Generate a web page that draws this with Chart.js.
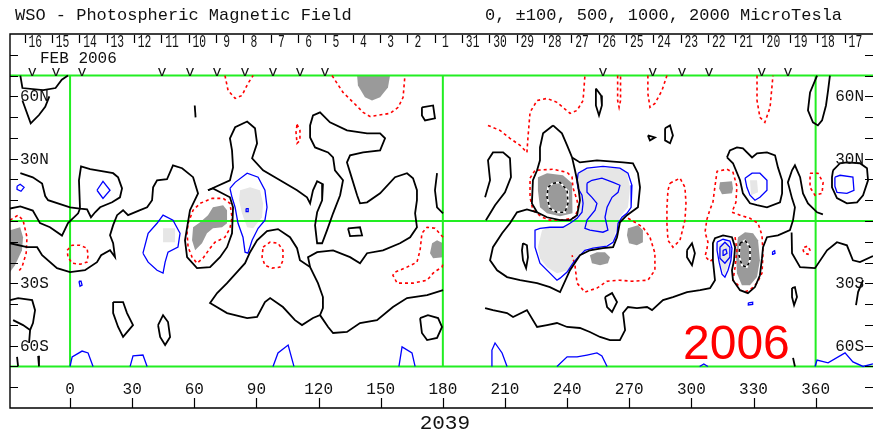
<!DOCTYPE html>
<html>
<head>
<meta charset="utf-8">
<script src="https://cdn.jsdelivr.net/npm/chart.js@4.4.1/dist/chart.umd.min.js"></script>
<style>
  html, body { margin: 0; padding: 0; background: #fff; }
  #wrap { width: 873px; height: 432px; position: relative; }
</style>
</head>
<body>
<div id="wrap"><canvas id="synoptic"></canvas></div>
<script>
// Carrington rotation 2039 – photospheric field contour map (lon/lat in degrees)
const lonMin = -29, lonMax = 387.7;
const latMin = -90, latMax = 90;
const boxLat = 70;

const lonTicks = [0, 30, 60, 90, 120, 150, 180, 210, 240, 270, 300, 330, 360];
const latTicks = [-80, -70, -60, -50, -40, -30, -20, -10, 0, 10, 20, 30, 40, 50, 60, 70, 80];
const latLabels = { '60': '60N', '30': '30N', '-30': '30S', '-60': '60S' };
const gridLats = [boxLat, 0, -boxLat];
const gridLons = [0, 180, 360];

const dayLabels = ['16', '15', '14', '13', '12', '11', '10', '9', '8', '7', '6', '5', '4', '3', '2', '1',
  '31', '30', '29', '28', '27', '26', '25', '24', '23', '22', '21', '20', '19', '18', '17'];
const dayFirstLon = -16.8;
const dayStepLon = 13.2;
const obsMarks = [-18.3, -6.8, 5.8, 44.4, 57.9, 71, 84.5, 98, 111, 123.1, 257.3, 281.4, 295.5, 308.5, 334, 346.6];

// neutral line (0 contour)
const zeroContours = [
  [[-24,70],[-23,64],[-13,63],[-7,64],[-4,68],[-1,70]],
  [[-23,58],[-19,47],[-15,51],[-12,55],[-10,60]],
  [[-24,23],[-18,21],[-13.5,18],[-12,12],[-10.6,10],[0,6.6],[4.8,6]],
  [[4.8,6],[4.3,19.6],[5.3,26.3],[9.7,25],[20.8,23],[23.2,21],[25.1,15.7],[24.1,11.4],[20.3,9],[14.5,6.6],[12.1,4.2],[10.1,1.8],[8.2,5.6],[4.8,6]],
  [[-29,6],[-24,7],[-18,5],[-14.5,-1],[-9.7,-3],[-3.9,-7],[-1,-1],[3.9,3.7],[4.8,6]],
  [[-29,-10.7],[-20.8,-12.6],[-15.9,-12.6],[-13.5,-16.5],[-6.3,-22.7],[0,-24.6],[7.2,-23.7],[13,-19.8],[15,-16.5],[19.3,-14.1],[21.7,-17.4],[20.8,-10.7],[19.3,-6.9],[20.8,-2],[22.7,2.8],[25.6,5.2],[28,2.8],[33.8,5.2],[37.2,6.6],[39.6,10],[40.1,16.2],[42,19.6],[46.8,20.1],[49.7,26.8],[54.1,25.4],[59.4,21.1],[61.8,13.3],[57.9,5.2],[55.5,-9.3],[56.5,-17.4],[61.3,-22.7],[67.6,-22.2],[72.4,-17.4],[75.8,-12.6],[78.2,-5.9],[78.7,6.6],[77.2,11.4],[69,15.7],[66.6,14.8]],
  [[66.6,14.8],[77.2,19.6],[78.7,25.8],[78.2,34],[77.2,39.8],[79.7,45.1],[85.5,47.9],[89.3,44.6],[90.3,37.4],[87.9,30.2],[93.2,24.4],[101.4,19.6],[109.6,14.8],[114.4,11.4],[115.9,8.5],[117.3,14.8],[119.3,19.1],[122.1,17.7],[121.7,10],[119.3,4.2],[118.3,-2],[119.3,-10.7],[121.7,-10.7],[124.1,-4.4],[127,3.7],[130.4,12.4],[131.8,19.6],[127.9,24.4],[127,30.6],[124.6,33],[118.3,35.4],[115.9,40.2],[115.9,46],[117.3,50.8],[120.7,52.3],[125.5,47.5],[133.7,43.6],[143.4,42.2],[149.7,42.2],[152.1,39.8],[149.7,34],[141.5,33],[135.2,31.6],[133.7,28.2],[135.2,23.4],[138.6,12.4],[140,8.5],[143.4,9],[149.7,13.3],[156.9,21.1],[162.7,23],[165.6,20.6],[167.5,14.8],[167.5,10],[166.6,3.7],[167.5,-3],[164.2,-7.8],[159.3,-10.7],[151.1,-14.1],[143.4,-15.5],[140,-20.3],[135.2,-17.4],[127,-14.1],[119.3,-15],[114.9,-17.4],[115.9,-22.2]],
  [[86.9,-15],[90.3,-9.3],[95.1,-4.9],[100.4,-3.9],[106.2,-7.8],[109.6,-13.1],[111,-18.9],[115.9,-22.2],[119.7,-29.9],[122.1,-36.6],[122.1,-41.9],[120.7,-45.3],[117.3,-46.7],[112,-50.1],[108.6,-47.7],[102.8,-41.4],[96.6,-37.1],[94.1,-39],[90.3,-46.2],[85.5,-46.7],[75.8,-44.3],[67.6,-39.5],[71,-34.7],[75.8,-29.9],[80.6,-24.6],[84.5,-20.3],[86.9,-15]],
  [[120.7,-45.3],[124.6,-51],[127,-53.9],[133.7,-53.4],[140,-49.1],[148.2,-47.7],[155.9,-41.4],[162.7,-37.1],[172.4,-35.7],[180.1,-33.3]],
  [[134.2,-3.5],[140,-3],[141,-6.9],[135.2,-7.3],[134.2,-3.5]],
  [[169,-46.7],[172.8,-45.3],[177.7,-46.7],[179.6,-51],[177.2,-56.3],[172.4,-57.3],[169.9,-53.9],[169,-46.7]],
  [[169.9,54.7],[175.3,55.6],[176.2,49.4],[171.4,48.4],[169.9,50.8],[169.9,54.7]],
  [[177.2,23],[176.2,14.8],[177.2,6.6],[180.1,3.7]],
  [[20.8,-39],[25.6,-39],[27.5,-44.3],[30.4,-50.1],[25.6,-55.8],[23.2,-51],[20.8,-44.3],[20.8,-39]],
  [[42.5,-50.1],[44.9,-45.3],[47.3,-48.6],[48.3,-55.8],[45.9,-59.7],[43.5,-55.8],[42.5,-50.1]],
  [[-29,-38.1],[-25.1,-37.1],[-18.3,-38.1],[-16.9,-42.9],[-17.9,-49.1],[-19.3,-52.5],[-19.8,-58.7]],
  [[-27.5,-47.7],[-22.7,-50.1],[-19.3,-52.5]],
  [[-25.6,-65.4],[-25.1,-70]],
  [[-15.4,-64.9],[-15,-70]],
  [[60.2,55.6],[60.6,49.9]],
  [[200.4,11.4],[202.8,19.6],[201.8,29.2],[204.2,33],[209.1,33],[212.4,30.2],[212.9,21.1],[210,13.8],[205.2,7.6],[200.8,0.4]],
  [[233.2,46],[228.4,42.2],[226.9,35.4],[226.9,29.2],[225.5,24.4],[223.5,19.6],[223,8.5],[225.5,4.2],[230.3,1.8],[236.6,0.4],[241.4,0.4],[244.8,2.8],[246.2,10],[245.3,17.2],[243.8,24.4],[242.4,30.6],[240,36.4],[237.5,42.2],[233.2,46]],
  [[242.4,30.6],[246.2,28.2],[254.4,29.2],[267,28.2],[271.8,27.8],[274.2,23],[275.2,16.2],[274.2,6.6],[268.9,2.8],[265.5,-0.6],[264.1,-7.8],[262.2,-12.6],[257.3,-13.1],[251,-14.1],[246.2,-16.5],[241.4,-23.7],[236.6,-34.2],[231.7,-31.8],[225.5,-29.9],[217.3,-28.5],[211,-27],[206.2,-23.7],[202.8,-18.9],[204.2,-12.6],[208.6,-5.9],[212.4,-1.1],[215.8,4.2],[220.6,5.6],[225.5,4.2]],
  [[218.7,-10.7],[220.6,-11.7],[221.1,-17.4],[220.2,-22.7],[218.7,-18.9],[218.2,-14.1],[218.7,-10.7]],
  [[200.4,-41.9],[204.2,-42.9],[211,-44.3],[213.9,-46.2],[220.6,-42.9],[225.5,-51],[230.3,-50.1],[235.1,-49.1],[240,-51],[246.2,-51.5],[251,-53.4],[255.9,-55.8],[260.7,-57.3],[265.5,-57.3],[268,-52.5],[267,-44.3],[269.4,-41.4],[273.7,-41.9],[278.6,-41.4],[281,-42.9],[286.3,-38.1],[291.1,-36.6],[297.9,-34.2],[304.2,-33.3],[309,-32.3],[311.4,-28.5],[310.4,-18.9],[310.4,-10.7],[311.4,-8.3],[315.3,-6.9],[319.6,-7.8],[321.1,-12.6],[320.6,-18.9],[319.6,-23.7],[320.1,-28.5],[323.5,-33.3],[327.3,-34.7],[330.7,-31.8],[333.1,-26.1],[334.1,-17.9],[334.6,-12.6],[336.5,-7.8],[341.8,-6.9],[347.6,-4.4],[349.1,0.4],[350,6.6],[348.6,10.9],[346.6,18.6],[348.6,24.4],[350,26.8],[352.5,21.1],[353.9,13.3],[356.3,8.5],[360.7,4.2],[363.5,3.2]],
  [[348.4,-5.5],[348.6,-15.5],[352.5,-22.2],[359.7,-22.7],[365.5,-14.1],[370.3,-10.2],[375.1,-11.7],[378,-18.9],[381.4,-19.8],[387.7,-16.9]],
  [[317.2,30.6],[318.6,34],[322,35.4],[324.9,35],[329.3,30.6],[331.7,32.6],[336.5,33],[340.4,31.6],[341.8,25.8],[343.8,19.6],[343.8,13.3],[342.8,9],[336.5,6.6],[331.7,7.6],[328.3,8.5],[324.9,13.3],[323.5,19.6],[320.1,27.8],[317.2,30.6]],
  [[360.7,70],[357.3,61.9],[356.3,53.2],[358.7,47.5],[361.1,46],[363.1,48.4],[365,55.6],[366,62.8],[366.9,70]],
  [[368.4,24.4],[371.8,27.8],[375.1,28.2],[381.4,27.8],[384.8,25.4],[385.3,19.6],[382.9,12.4],[380,9],[375.1,8.5],[370.3,11],[367.9,16.2],[367.9,21.1],[368.4,24.4]],
  [[253.9,63.8],[256.4,60.4],[256.8,55.6],[255.4,50.8],[253.9,55.6],[253.9,63.8]],
  [[287.3,44.6],[289.7,46],[291.1,41.2],[289.7,37.4],[287.3,38.8],[287.3,44.6]],
  [[279,41.2],[282.4,40.2],[280,38.8],[279,41.2]],
  [[258.3,-36.6],[261.7,-34.7],[264.1,-39],[261.7,-43.8],[259.3,-41.4],[258.3,-36.6]],
  [[297.9,-14.1],[300.3,-10.7],[301.7,-15.5],[300.3,-21.3],[297.9,-17.4],[297.9,-14.1]],
  [[348.6,-32.3],[350,-31.8],[351,-36.6],[349.6,-40.5],[348.6,-36.6],[348.6,-32.3]],
  [[382.9,-28.5],[380.5,-34.2],[379.5,-40.5]],
  [[349.1,-65.9],[350,-70]]
];

// positive contours
const posContours = [
  [[-25.6,16.7],[-24.1,17.7],[-22.2,16.2],[-23.7,14.3],[-25.6,15.2],[-25.6,16.7]],
  [[13,14.8],[15.9,19.1],[19.3,14.8],[15.9,10.9],[13,14.8]],
  [[4.3,-29],[5.3,-29],[5.8,-30.9],[4.8,-31.4],[4.3,-29]],
  [[35.2,-15.5],[37.7,-5.9],[42,-1.1],[44.9,2.8],[49.7,0.4],[53.1,-5.9],[52.1,-12.6],[47.3,-15],[45.9,-19.8],[44.9,-25.1],[42,-23.7],[37.7,-19.8],[35.2,-15.5]],
  [[77.2,15.7],[79.7,18.6],[85.5,23],[90.8,21.1],[94.1,14.8],[95.1,6.6],[94.1,0.4],[90.8,-3.5],[87.9,-9.3],[85.9,-15.5],[84.5,-15],[83.5,-7.8],[81.1,-1.1],[79.7,6.6],[78.2,11.4],[77.2,15.7]],
  [[85,6],[86,6],[86,4.5],[85,4.5],[85,6]],
  [[0,-70],[1,-65.4],[5.8,-62.6],[8.7,-63.5],[11.1,-70]],
  [[29,-70],[30.4,-64.9],[35.2,-64.5],[37.2,-70]],
  [[98,-70],[100.4,-63.5],[105.3,-59.7],[108.1,-70]],
  [[158.8,-70],[160.3,-60.6],[165.1,-63.5],[166.6,-70]],
  [[203.7,-70],[203.7,-62.1],[205.2,-58.7],[208.6,-63.5],[211,-70]],
  [[235.1,-70],[240,-65.4],[244.8,-65.4],[249.6,-64.5],[254.4,-63.5],[256.8,-64.9],[259.3,-70]],
  [[304,-70],[306,-68.8],[308,-70]],
  [[359.7,-70],[360.7,-66.9],[366,-68.3],[374.2,-63.5],[378,-67.8],[382.9,-70],[387.7,-68.8]],
  [[245.3,23],[249.6,25.4],[257.3,26.3],[265.5,25.4],[269.4,23],[271.3,17.2],[270.9,6.6],[268.9,3.7],[266.5,1.8],[264.6,-1.1],[264.1,-5.9],[262.2,-10.2],[259.3,-12.1],[252.5,-13.1],[248.6,-14.1],[245.3,-17.4],[242.8,-20.3],[240,-24.6],[236.6,-27.5],[235.1,-28.5],[231.7,-25.1],[226.9,-20.3],[224.5,-12.6],[224.5,-4.4],[226.9,-3.5],[231.7,-3],[238,-3],[241.4,-1.1],[244.8,1.3],[247.2,4.2],[247.7,8.5],[247.2,12.4],[245.3,15.7],[244.8,18.6],[245.3,23]],
  [[249.6,18.2],[252,19.6],[256.8,20.6],[262.2,18.6],[265.5,17.2],[264.6,13.8],[261.7,11.4],[259.3,6.6],[258.3,1.8],[259.7,-4.4],[257.3,-5.4],[251,-4.4],[248.6,-3.5],[249.6,0.4],[253.5,5.2],[254.4,8.5],[252,11.4],[249.6,13.8],[249.6,18.2]],
  [[325.9,20.6],[329.3,23],[333.1,23],[336.5,19.6],[336.5,14.8],[333.1,11.4],[330.7,10],[328.3,12.4],[326.8,16.2],[325.9,20.6]],
  [[312.4,-10.2],[315.3,-8.8],[318.6,-9.7],[319.6,-13.1],[319.1,-18.9],[317.7,-23.7],[316.2,-27],[314.8,-25.6],[313.4,-19.8],[312.4,-14.1],[312.4,-10.2]],
  [[313.8,-12.6],[316.2,-10.2],[318.6,-12.6],[318.6,-17.4],[316.2,-20.3],[313.8,-17.9],[313.8,-12.6]],
  [[315.3,-14.1],[316.7,-13.6],[317.2,-15.5],[315.7,-16.5],[315.3,-14.1]],
  [[369.3,21.1],[371.8,22],[378,21.1],[378.5,14.8],[375.1,13.3],[370.3,13.8],[369.3,16.7],[369.3,21.1]],
  [[339.2,-14.8],[340.2,-14.3],[340.4,-15.6],[339.4,-16.1],[339.2,-14.8]],
  [[327.5,-39.4],[329.6,-39.1],[329.6,-40.1],[327.5,-40.4],[327.5,-39.4]]
];

// negative contours
const negContours = [
  [[74.8,70],[76.3,62.8],[79.7,59],[83,60.4],[85.9,66.2],[88.4,70]],
  [[126.5,70],[131.8,61.9],[136.2,57.6],[141.5,52.3],[144.8,50.3],[154.5,51.8],[158.4,54.7],[160.8,59.5],[161.7,70]],
  [[109.6,46.5],[111,43.6],[111,38.8],[109.6,37.4],[109.1,42.7],[109.6,46.5]],
  [[57,-1.1],[59.4,5.2],[62.8,8.5],[68.6,10.9],[73.9,10.9],[77.2,8.5],[78.2,1.8],[77.2,-3.5],[74.8,-7.8],[70,-10.2],[67.6,-13.1],[64.2,-17.9],[61.3,-20.3],[58.9,-17.4],[57,-12.6],[56.5,-5.9],[57,-1.1]],
  [[93.2,-12.6],[96.6,-10.2],[100.4,-10.7],[102.8,-14.1],[102.8,-18.9],[101.4,-22.2],[97.5,-22.7],[94.1,-21.3],[92.7,-17.4],[93.2,-12.6]],
  [[-1.4,-14.1],[1,-11.7],[4.8,-11.7],[8.2,-13.1],[8.7,-16.5],[8.2,-19.8],[4.8,-20.8],[1,-20.3],[-1,-17.4],[-1.4,-14.1]],
  [[-29,0.4],[-25.1,2.8],[-22.7,0.4],[-20.8,-7.8],[-21.2,-15.5],[-23.2,-22.2],[-25.1,-24.6]],
  [[180.1,-7.8],[176.2,-3.5],[172.4,-3],[169.9,-5.9],[169,-14.1],[167.5,-19.8],[162.7,-22.2],[156.9,-24.6],[155.9,-26.1],[157.9,-29.9],[165.6,-29.9],[172.4,-28.5],[175.3,-25.1],[177.2,-23.7],[179.6,-22.2],[180.1,-20.3]],
  [[222.1,20.6],[224.5,24.4],[233.2,24.9],[240,23.4],[242.4,21.1],[242.8,16.2],[244.8,10],[245.3,6.1],[243.8,1.8],[238,0.4],[231.7,0.4],[227.9,1.8],[223.5,5.2],[222.1,11.4],[222.1,20.6]],
  [[201.8,46],[207.6,43.6],[212.4,39.8],[217.3,36.4],[220.6,33],[221.1,40.2],[222.1,52.3],[225.5,58],[230.3,59],[235.1,57.1],[238,54.7],[241.4,51.8],[244.8,53.2],[247.7,58],[248.6,70]],
  [[264.4,70],[264.4,58],[265.1,54.7],[265.8,58],[265.8,70]],
  [[279,70],[279,61.4],[280,54.7],[282.4,56.6],[285.8,62.8],[288.2,70]],
  [[331.7,70],[331.7,58],[333.1,49.9],[335.5,47.5],[338,54.7],[339.4,70]],
  [[310.4,-18.4],[309,-19.4],[306.6,-17],[307.5,-13.6],[308,-10.2],[306.6,-5.4],[307.5,0.8],[309,5.6],[310.4,9],[311.4,16.7],[312.4,23.9],[317.2,24.9],[320.1,23.4],[322,16.7],[321.5,9],[319.6,4.2],[323.5,2.8],[328.3,1.3],[332.2,-1.1],[334.1,-6.9],[334.6,-15.5],[334.1,-25.1],[331.7,-29.9],[328.3,-33.3],[324.9,-34.2]],
  [[321.1,-7.8],[322,-14.1],[321.1,-22.2],[320.1,-28.5],[323.5,-31.8]],
  [[289.7,18.2],[294.5,20.6],[296.9,16.2],[297.4,8.5],[296.9,0.4],[294.5,-9.3],[291.1,-12.6],[288.7,-9.3],[288.2,-1.1],[288.2,6.6],[288.7,14.8],[289.7,18.2]],
  [[269.4,1.3],[272.8,-0.6],[276.6,-3],[280,-7.8],[282.4,-15.5],[282.4,-23.7],[279,-28.5],[271.3,-29],[265.5,-28.5],[259.3,-29],[254.4,-32.3],[248.6,-34.2],[244.8,-29.9],[243.8,-21.3],[242.4,-16.5]],
  [[354.5,-12.6],[356.3,-12.1],[357.3,-14.1],[356.3,-16],[354.5,-15.5],[354,-14.1],[354.5,-12.6]],
  [[357.3,23],[361.1,23],[363.6,18.6],[363.1,13.3],[359.7,12.4],[357.3,16.2],[357.3,23]]
];

// strong negative cores (dashed)
const negCores = [
  [[233.2,18.2],[236.6,18.6],[240,14.8],[240.4,8.5],[239,4.2],[235.1,4.2],[231.7,6.1],[230.3,11.4],[230.8,16.2],[233.2,18.2]],
  [[323.5,-10.7],[325.9,-9.3],[328.3,-12.6],[328.3,-18.9],[326.8,-22.2],[324.4,-21.3],[323,-16.5],[323.5,-10.7]]
];

// shaded strong-field areas
const negPatches = [
  [[-29,-4.4],[-24.1,-3],[-22.7,-7.8],[-23.2,-14.1],[-26.6,-21.3],[-29,-24.6]],
  [[138.6,70],[154.5,70],[153.5,64.3],[149.7,59.5],[145.8,58],[142.4,59.5],[139,65.2]],
  [[59.4,-3],[62.8,-0.6],[66.6,2.8],[69,6.6],[73.9,7.6],[75.8,5.2],[75.8,-1.1],[73.4,-3],[69,-3.5],[66.1,-5.9],[63.7,-10.7],[60.4,-14.1],[58.9,-9.3]],
  [[174.8,-10.7],[177.2,-9.3],[180.1,-10.7],[180.1,-17.4],[175.3,-17.9],[173.8,-15.5]],
  [[225.9,21.1],[230.3,23],[238,22],[242.4,18.2],[242.8,10],[242.4,3.7],[236.6,2.3],[230.3,3.7],[226.9,6.6],[225.9,14.8]],
  [[251,-16.5],[254.4,-15],[258.3,-15],[260.7,-17.4],[259.7,-20.3],[255.9,-21.3],[252,-20.3]],
  [[269.4,-3.5],[274.2,-2],[276.6,-4.4],[276.6,-10.2],[273.7,-11.7],[269.9,-10.7],[268.9,-6.9]],
  [[313.8,18.6],[319.6,19.1],[320.1,15.7],[319.6,13.3],[314.8,12.9],[313.4,15.7]],
  [[322.5,-7.8],[325.9,-5.4],[329.8,-5.9],[332.2,-9.3],[333.1,-18.9],[331.7,-27],[328.3,-30.9],[324.4,-30.9],[322,-25.1],[321.5,-15.5]]
];
const posPatches = [
  [[44.9,-3.5],[50.7,-3.5],[50.7,-10.2],[44.9,-10.2]],
  [[82.1,14.8],[86.9,16.2],[91.7,14.8],[93.2,8.5],[92.7,1.8],[88.4,-3.5],[85.5,-3],[83,3.7],[81.6,10]],
  [[246.2,24.4],[264.1,25.8],[268.9,23],[270.4,16.2],[269.4,6.6],[265.5,1.8],[264.1,-3],[262.2,-9.3],[257.3,-12.6],[249.6,-13.1],[246.2,-15.5],[242.8,-19.8],[240.4,-23.7],[235.1,-25.1],[230.3,-22.2],[226.9,-17.9],[225.9,-12.6],[227.9,-4.4],[231.7,-3],[236.6,-3],[241.4,-1.1],[244.8,1.8],[246.2,6.6],[246.2,11.4],[244.8,16.2],[244.8,21.1]],
  [[328.3,19.6],[331.7,19.6],[332.2,13.8],[328.8,12.4]],
  [[313,-11],[318,-10],[319,-18],[316,-26],[313.5,-20]]
];

const datasets = [];
const toXY = pts => pts.map(([x, y]) => ({ x, y }));

function addLines(list, style) {
  list.forEach(pts => datasets.push(Object.assign({
    data: toXY(pts),
    showLine: true,
    fill: false,
    pointRadius: 0,
    pointHoverRadius: 0,
    tension: 0
  }, style)));
}

function addPatches(list, color, order) {
  list.forEach(pts => datasets.push({
    data: toXY(pts),
    showLine: true,
    fill: 'shape',
    backgroundColor: color,
    borderColor: color,
    borderWidth: 0,
    pointRadius: 0,
    pointHoverRadius: 0,
    tension: 0,
    order: order
  }));
}

addPatches(posPatches, '#e6e6e6', 7);
addPatches(negPatches, '#9a9a9a', 6);

const green = { borderColor: '#22ee22', borderWidth: 2, order: 5 };
gridLats.forEach(lat => addLines([[[lonMin, lat], [lonMax, lat]]], green));
gridLons.forEach(lon => addLines([[[lon, boxLat], [lon, -boxLat]]], green));

addLines(negContours, { borderColor: '#ff0000', borderWidth: 1.6, borderDash: [3, 3], order: 4 });
addLines(posContours, { borderColor: '#0000ff', borderWidth: 1.3, order: 3 });
addLines(zeroContours, { borderColor: '#000000', borderWidth: 1.8, order: 2 });
addLines(negCores, { borderColor: '#ffffff', borderWidth: 1.8, order: 1 });
addLines(negCores, { borderColor: '#000000', borderWidth: 1.6, borderDash: [3, 3], order: 0 });

const MONO = '"Liberation Mono", "Courier New", monospace';

// frame, tick marks, date strip and captions
const framePlugin = {
  id: 'wsoFrame',
  afterDraw(chart) {
    const { ctx, chartArea: a, scales: { x, y } } = chart;
    ctx.save();
    ctx.strokeStyle = '#000';
    ctx.fillStyle = '#111';
    ctx.lineWidth = 1.4;

    ctx.beginPath();
    ctx.moveTo(a.right, a.top);
    ctx.lineTo(a.left, a.top);
    ctx.lineTo(a.left, a.bottom);
    ctx.lineTo(a.right, a.bottom);
    ctx.stroke();

    ctx.lineWidth = 1.2;
    ctx.beginPath();
    latTicks.forEach(v => {
      const py = Math.round(y.getPixelForValue(v)) + 0.5;
      ctx.moveTo(a.left, py); ctx.lineTo(a.left + 8, py);
      ctx.moveTo(a.right, py); ctx.lineTo(a.right - 8, py);
    });
    lonTicks.forEach(v => {
      const px = Math.round(x.getPixelForValue(v)) + 0.5;
      ctx.moveTo(px, a.bottom); ctx.lineTo(px, a.bottom - 10);
    });
    dayLabels.forEach((d, i) => {
      const px = Math.round(x.getPixelForValue(dayFirstLon + i * dayStepLon - 5.1)) + 0.5;
      ctx.moveTo(px, a.top + 1); ctx.lineTo(px, a.top + 9);
    });
    ctx.stroke();

    ctx.font = '16px ' + MONO;
    ctx.textBaseline = 'alphabetic';
    Object.keys(latLabels).forEach(k => {
      const py = y.getPixelForValue(Number(k)) + 5;
      ctx.textAlign = 'left';
      ctx.fillText(latLabels[k], a.left + 10, py);
      ctx.textAlign = 'right';
      ctx.fillText(latLabels[k], a.right - 9, py);
    });

    ctx.textAlign = 'center';
    lonTicks.forEach(v => ctx.fillText(String(v), x.getPixelForValue(v), a.bottom - 14));

    ctx.font = '19px ' + MONO;
    dayLabels.forEach((d, i) => {
      ctx.fillText(d, x.getPixelForValue(dayFirstLon + i * dayStepLon), a.top + 13, 6.8 * d.length);
    });

    ctx.font = '15px ' + MONO;
    const vBase = y.getPixelForValue(boxLat);
    obsMarks.forEach(lon => ctx.fillText('v', x.getPixelForValue(lon), vBase));

    ctx.textAlign = 'left';
    ctx.font = '16px ' + MONO;
    ctx.fillText('FEB 2006', 40, 63);

    ctx.font = '17px ' + MONO;
    ctx.fillText('WSO - Photospheric Magnetic Field', 15, 20);
    ctx.fillText('0, \u00b1100, 500, 1000, 2000 MicroTesla', 485, 20);

    ctx.font = '21px ' + MONO;
    ctx.textAlign = 'center';
    ctx.fillText('2039', x.getPixelForValue(180) + 2, 429);

    ctx.font = '48px "Liberation Sans", Arial, sans-serif';
    ctx.fillStyle = '#ff0000';
    ctx.textAlign = 'left';
    ctx.fillText('2006', 683, 359);
    ctx.restore();
  }
};

new Chart(document.getElementById('synoptic'), {
  type: 'scatter',
  data: { datasets: datasets },
  options: {
    responsive: true,
    maintainAspectRatio: false,
    devicePixelRatio: 1,
    animation: false,
    events: [],
    layout: { padding: { left: 10, right: 0, top: 34, bottom: 24 } },
    scales: {
      x: { type: 'linear', min: lonMin, max: lonMax, display: false },
      y: { type: 'linear', min: latMin, max: latMax, display: false }
    },
    plugins: {
      legend: { display: false },
      tooltip: { enabled: false },
      filler: { propagate: false }
    }
  },
  plugins: [framePlugin]
});
</script>
</body>
</html>
